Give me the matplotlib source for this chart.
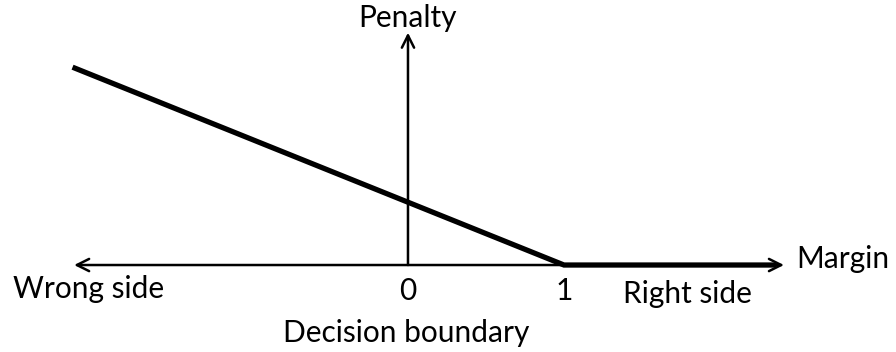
import matplotlib
matplotlib.use("Agg")
import matplotlib.pyplot as plt

# hinge loss: penalty vs margin
margin = [-2.15, 1.0, 2.36]
penalty = [3.15, 0.0, 0.0]

tick_values = [0, 1]
tick_labels = ["0", "1"]

plt.rcParams['font.family'] = ['Lato', 'DejaVu Sans']

def main():
    fig = plt.figure(figsize=(8.96, 3.52), dpi=100)
    ax = fig.add_axes([0, 0, 1, 1])
    ax.set_xlim(-2.615, 3.128)
    ax.set_ylim(-1.385, 4.22)
    ax.axis('off')

    # axes arrows
    ax.annotate('', xy=(2.41, 0), xytext=(-2.14, 0),
                arrowprops=dict(arrowstyle='<->', lw=1.8, color='black',
                                shrinkA=0, shrinkB=0, mutation_scale=22))
    ax.annotate('', xy=(0, 3.7), xytext=(0, 0),
                arrowprops=dict(arrowstyle='->', lw=1.8, color='black',
                                shrinkA=0, shrinkB=0, mutation_scale=22))

    # the penalty curve
    ax.plot(margin, penalty, color='black', lw=3.8, solid_capstyle='butt',
            solid_joinstyle='miter')

    fs = 21.5
    for v, lab in zip(tick_values, tick_labels):
        ax.text(v, -0.55, lab, ha='center', va='baseline', fontsize=fs)
    ax.text(0, 3.79, "Penalty", ha='center', va='baseline', fontsize=fs)
    ax.text(2.49, -0.05, "Margin", ha='left', va='baseline', fontsize=fs)
    ax.text(-2.53, -0.53, "Wrong side", ha='left', va='baseline', fontsize=fs)
    ax.text(1.38, -0.61, "Right side", ha='left', va='baseline', fontsize=fs)
    ax.text(-0.01, -1.23, "Decision boundary", ha='center', va='baseline', fontsize=fs)

    fig.savefig("out.png", dpi=100)

if __name__ == "__main__":
    main()
